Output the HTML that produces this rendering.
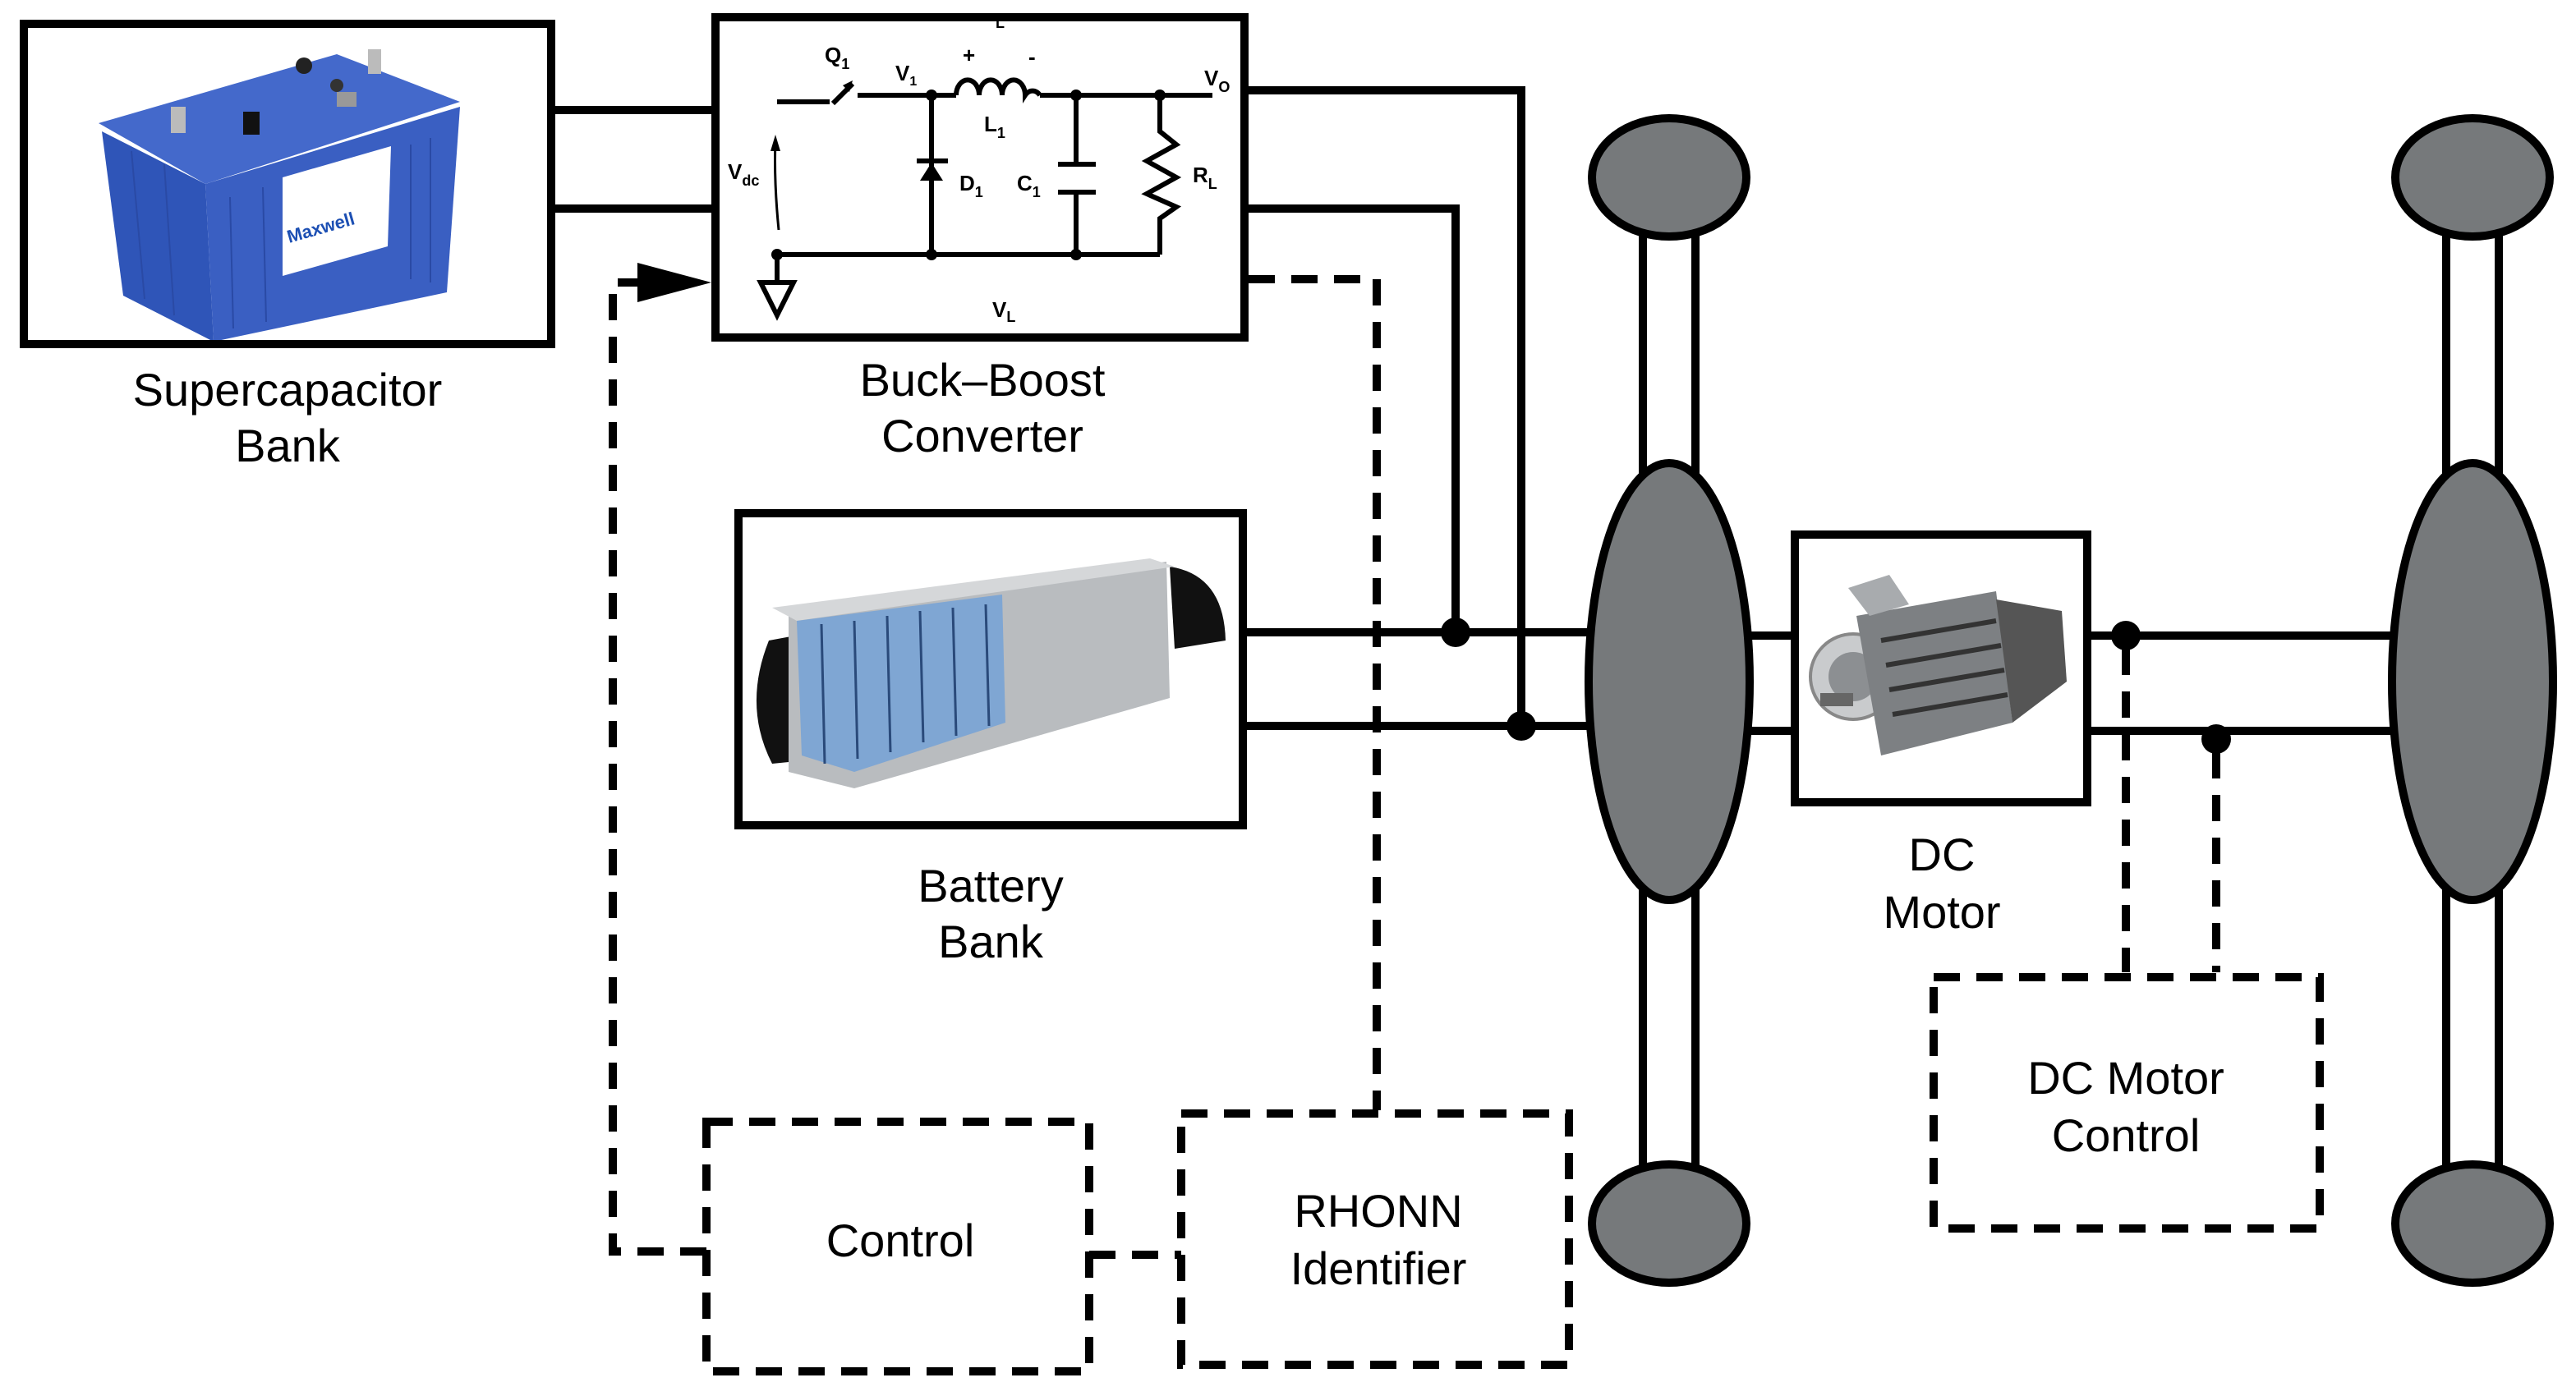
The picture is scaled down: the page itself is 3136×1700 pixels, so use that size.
<!DOCTYPE html>
<html><head><meta charset="utf-8"><style>
html,body{margin:0;padding:0;background:#fff;}
svg{display:block;}
text{font-family:"Liberation Sans",Arial,sans-serif;fill:#000;}
</style></head><body>
<svg width="3136" height="1700" viewBox="0 0 1568 850" xmlns="http://www.w3.org/2000/svg">
<rect width="1568" height="850" fill="#fff"/>

<!-- Supercapacitor image -->
<g>
<polygon points="62,80 125,112 130,208 75,180" fill="#2f55b8"/>
<polygon points="125,112 280,65 272,178 130,208" fill="#3a5fc2"/>
<polygon points="60,75 205,33 280,62 125,112" fill="#4469cb"/>
<polygon points="172,108 238,89 236,150 172,168" fill="#fff"/>
<text x="176" y="148" font-size="11" font-weight="bold" transform="rotate(-16 176 148)" style="fill:#1c4fb3">Maxwell</text>
<rect x="104" y="65" width="9" height="16" fill="#bbb"/>
<rect x="148" y="68" width="10" height="14" fill="#111"/>
<rect x="224" y="30" width="8" height="15" fill="#bbb"/>
<circle cx="185" cy="40" r="5" fill="#222"/>
<circle cx="205" cy="52" r="4" fill="#333"/>
<rect x="205" y="56" width="12" height="9" fill="#999"/>
<g stroke="#2a4aa5" stroke-width="1">
<line x1="140" y1="120" x2="142" y2="200"/><line x1="160" y1="114" x2="162" y2="196"/>
<line x1="250" y1="88" x2="250" y2="170"/><line x1="262" y1="84" x2="262" y2="172"/>
<line x1="80" y1="92" x2="88" y2="182"/><line x1="100" y1="100" x2="106" y2="192"/>
</g>
</g>
<rect x="14.5" y="14.5" width="321" height="195" fill="none" stroke="#000" stroke-width="5"/>

<line x1="337" y1="67" x2="433" y2="67" stroke="#000" stroke-width="5"/>
<line x1="337" y1="127" x2="433" y2="127" stroke="#000" stroke-width="5"/>

<!-- Converter box -->
<rect x="435.5" y="10.5" width="322" height="195" fill="none" stroke="#000" stroke-width="5"/>
<g stroke="#000" stroke-width="3" fill="none">
<line x1="473" y1="62" x2="505" y2="62"/>
<line x1="507" y1="63" x2="519" y2="51"/>
<line x1="522" y1="58" x2="567" y2="58"/>
<path d="M582,58 a6,8 0 0 1 14,0 a6,8 0 0 1 14,0 a6,8 0 0 1 14,0 a6,8 0 0 1 9,0"/>
<line x1="567" y1="58" x2="582" y2="58"/>
<line x1="633" y1="58" x2="738" y2="58"/>
<line x1="567" y1="58" x2="567" y2="155"/>
<line x1="655" y1="58" x2="655" y2="100"/>
<line x1="644" y1="100" x2="667" y2="100"/>
<line x1="644" y1="117" x2="667" y2="117"/>
<line x1="655" y1="117" x2="655" y2="155"/>
<polyline points="706,58 706,80 716,88 698,98 716,108 698,118 716,126 706,133 706,155"/>
<line x1="473" y1="155" x2="706" y2="155"/>
<line x1="473" y1="155" x2="473" y2="172"/>
<polygon points="463,172 483,172 473,192"/>
<path d="M474,140 Q471,110 472,85" stroke-width="1.5"/>
</g>
<polygon points="519,49 513,52 517,56" fill="#000"/>
<polygon points="472,82 469,92 475,92" fill="#000"/>
<line x1="558" y1="98" x2="577" y2="98" stroke="#000" stroke-width="3"/>
<polygon points="567,99 560,110 574,110" fill="#000"/>
<g fill="#000">
<circle cx="567" cy="58" r="3.5"/><circle cx="655" cy="58" r="3.5"/><circle cx="706" cy="58" r="3.5"/>
<circle cx="473" cy="155" r="3.5"/><circle cx="567" cy="155" r="3.5"/><circle cx="655" cy="155" r="3.5"/>
</g>
<g font-size="13" font-weight="bold">
<text x="502" y="38">Q<tspan font-size="9" dy="4">1</tspan></text>
<text x="545" y="49">V<tspan font-size="8" dy="3">1</tspan></text>
<text x="586" y="38">+</text>
<text x="626" y="39">-</text>
<text x="599" y="80">L<tspan font-size="9" dy="4">1</tspan></text>
<text x="584" y="116">D<tspan font-size="9" dy="4">1</tspan></text>
<text x="619" y="116">C<tspan font-size="9" dy="4">1</tspan></text>
<text x="726" y="111">R<tspan font-size="9" dy="4">L</tspan></text>
<text x="733" y="52">V<tspan font-size="9" dy="4">O</tspan></text>
<text x="443" y="109">V<tspan font-size="9" dy="4">dc</tspan></text>
<text x="604" y="193">V<tspan font-size="9" dy="3">L</tspan></text>
<text x="606" y="17" font-size="9">L</text>
</g>

<g font-size="28" text-anchor="middle">
<text x="175" y="247">Supercapacitor</text>
<text x="175" y="281">Bank</text>
<text x="598" y="241">Buck–Boost</text>
<text x="598" y="275">Converter</text>
<text x="603" y="549">Battery</text>
<text x="603" y="583">Bank</text>
<text x="1182" y="530">DC</text>
<text x="1182" y="565">Motor</text>
<text x="1294" y="666">DC Motor</text>
<text x="1294" y="701">Control</text>
<text x="548" y="765">Control</text>
<text x="839" y="747">RHONN</text>
<text x="839" y="782">Identifier</text>
</g>

<!-- Battery pack image -->
<g>
<path d="M468,390 Q452,430 470,465 L500,462 L495,385 Z" fill="#111"/>
<path d="M712,345 Q745,350 746,390 L715,395 Z" fill="#111"/>
<polygon points="480,375 710,342 712,425 520,480 480,470" fill="#b9bcbf"/>
<polygon points="470,370 700,340 715,345 485,378" fill="#d5d7d9"/>
<polygon points="485,378 610,362 612,440 520,470 488,460" fill="#7fa6d3"/>
<g stroke="#2a4a7a" stroke-width="1.5">
<line x1="500" y1="380" x2="502" y2="465"/><line x1="520" y1="378" x2="522" y2="462"/>
<line x1="540" y1="375" x2="542" y2="458"/><line x1="560" y1="372" x2="562" y2="452"/>
<line x1="580" y1="370" x2="582" y2="448"/><line x1="600" y1="368" x2="602" y2="442"/>
</g>
</g>
<rect x="449.5" y="312.5" width="307" height="190" fill="none" stroke="#000" stroke-width="5"/>

<!-- Motor image -->
<g>
<circle cx="1128" cy="412" r="26" fill="#c9cbcd" stroke="#888" stroke-width="2"/>
<circle cx="1128" cy="412" r="15" fill="#8c8f92"/>
<polygon points="1130,375 1215,360 1225,440 1145,460" fill="#7d8083"/>
<g stroke="#333" stroke-width="3">
<line x1="1145" y1="390" x2="1215" y2="378"/><line x1="1148" y1="405" x2="1218" y2="393"/>
<line x1="1150" y1="420" x2="1220" y2="408"/><line x1="1152" y1="435" x2="1222" y2="423"/>
</g>
<polygon points="1125,358 1150,350 1162,368 1138,375" fill="#a8abae"/>
<polygon points="1215,365 1255,372 1258,415 1225,440" fill="#555"/>
<rect x="1108" y="422" width="20" height="8" fill="#666"/>
</g>
<rect x="1092.5" y="325.5" width="178" height="163" fill="none" stroke="#000" stroke-width="5"/>

<g stroke="#000" stroke-width="5" fill="none">
<polyline points="760,55 926,55 926,442"/>
<polyline points="760,127 886,127 886,385"/>
<line x1="758" y1="385" x2="970" y2="385"/>
<line x1="758" y1="442" x2="970" y2="442"/>
<line x1="1064" y1="387" x2="1092" y2="387"/>
<line x1="1064" y1="445" x2="1092" y2="445"/>
<line x1="1273" y1="387" x2="1458" y2="387"/>
<line x1="1273" y1="445" x2="1458" y2="445"/>
</g>
<circle cx="886" cy="385" r="9" fill="#000"/>
<circle cx="926" cy="442" r="9" fill="#000"/>
<circle cx="1294" cy="387" r="9" fill="#000"/>
<circle cx="1349" cy="450" r="9" fill="#000"/>

<g stroke="#000" stroke-width="5">
<rect x="1000" y="130" width="32" height="600" fill="#fff"/>
<rect x="1489" y="130" width="32" height="600" fill="#fff"/>
<ellipse cx="1016" cy="108" rx="47" ry="36" fill="#76797b"/>
<ellipse cx="1016" cy="745" rx="47" ry="36" fill="#76797b"/>
<ellipse cx="1016" cy="415" rx="49" ry="133" fill="#76797b"/>
<ellipse cx="1505" cy="108" rx="47" ry="36" fill="#76797b"/>
<ellipse cx="1505" cy="745" rx="47" ry="36" fill="#76797b"/>
<ellipse cx="1505" cy="415" rx="49" ry="133" fill="#76797b"/>
</g>

<g stroke="#000" stroke-width="5" fill="none" stroke-dasharray="16,10">
<rect x="1177" y="595" width="235" height="153"/>
<rect x="430" y="683" width="233" height="152"/>
<rect x="719" y="678" width="236" height="153"/>
<polyline points="1294,395 1294,592"/>
<polyline points="1349,458 1349,592"/>
<polyline points="760,170 838,170 838,676"/>
<line x1="663" y1="764" x2="719" y2="764"/>
<polyline points="430,762 373,762 373,172 395,172"/>
</g>
<polygon points="388,160 433,172 388,184" fill="#000"/>
</svg>
</body></html>
